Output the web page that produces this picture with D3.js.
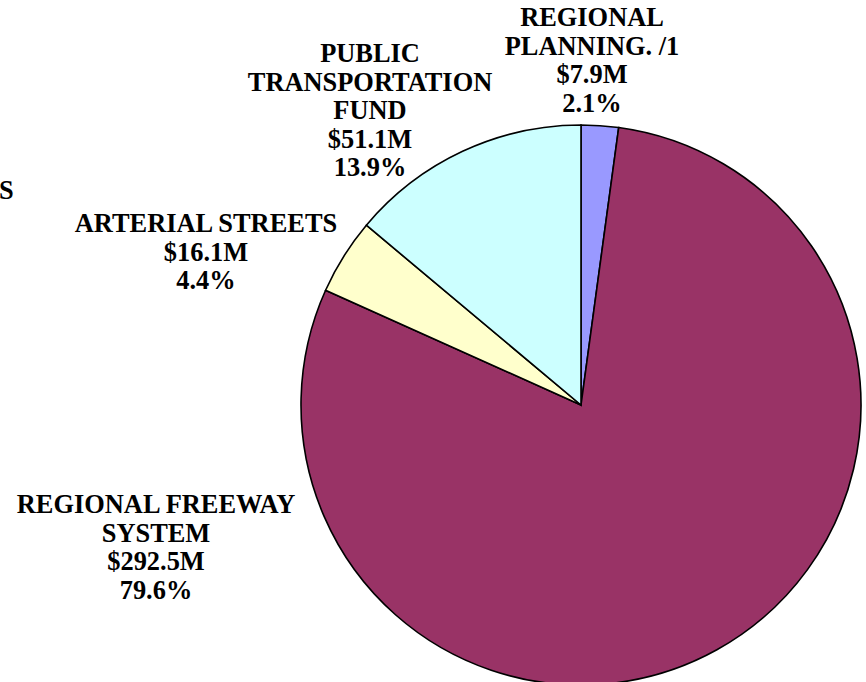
<!DOCTYPE html>
<html>
<head>
<meta charset="utf-8">
<script src="https://cdn.jsdelivr.net/npm/d3@7"></script>
<style>
  body { margin: 0; background: #fff; }
  text { font-family: "Liberation Serif", "Times New Roman", serif; font-weight: bold; font-size: 26.4px; fill: #000; }
</style>
</head>
<body>
<div id="chart"></div>
<script>
// slices in drawing order, clockwise from 12 o'clock
var names = [["REGIONAL", "PLANNING. /1"], ["REGIONAL FREEWAY", "SYSTEM"], ["ARTERIAL STREETS"], ["PUBLIC", "TRANSPORTATION", "FUND"]];
var amounts = [7.9, 292.5, 16.1, 51.1];
var amountText = ["$7.9M", "$292.5M", "$16.1M", "$51.1M"];
var percentText = ["2.1%", "79.6%", "4.4%", "13.9%"];
var colors = ["#9999FF", "#993366", "#FFFFCC", "#CCFFFF"];

var W = 866, H = 682;
var cx = 581, cy = 405, radius = 280;
var lineH = 28.5;
// label anchor: centre x, baseline of first line
var labelAt = [[592, 26], [156, 513], [206, 232], [370, 62]];

var svg = d3.select("#chart").append("svg").attr("width", W).attr("height", H);

var pie = d3.pie().sort(null).value(function (d) { return d; });
var arc = d3.arc().innerRadius(0).outerRadius(radius);

var g = svg.append("g").attr("transform", "translate(" + cx + "," + cy + ")");
g.selectAll("path").data(pie(amounts))
  .enter().append("path")
  .attr("d", arc)
  .attr("fill", function (d, i) { return colors[i]; })
  .attr("stroke", "#000")
  .attr("stroke-width", 1.6)
  .attr("stroke-linejoin", "miter");

// labels
names.forEach(function (nm, i) {
  var lines = nm.concat([amountText[i], percentText[i]]);
  var t = svg.append("text").attr("text-anchor", "middle");
  lines.forEach(function (s, k) {
    t.append("tspan").attr("x", labelAt[i][0]).attr("y", labelAt[i][1] + k * lineH).text(s);
  });
});

// leftover letter at the left edge
svg.append("text").attr("x", -1).attr("y", 199).attr("text-anchor", "start").text("S");
</script>
</body>
</html>
